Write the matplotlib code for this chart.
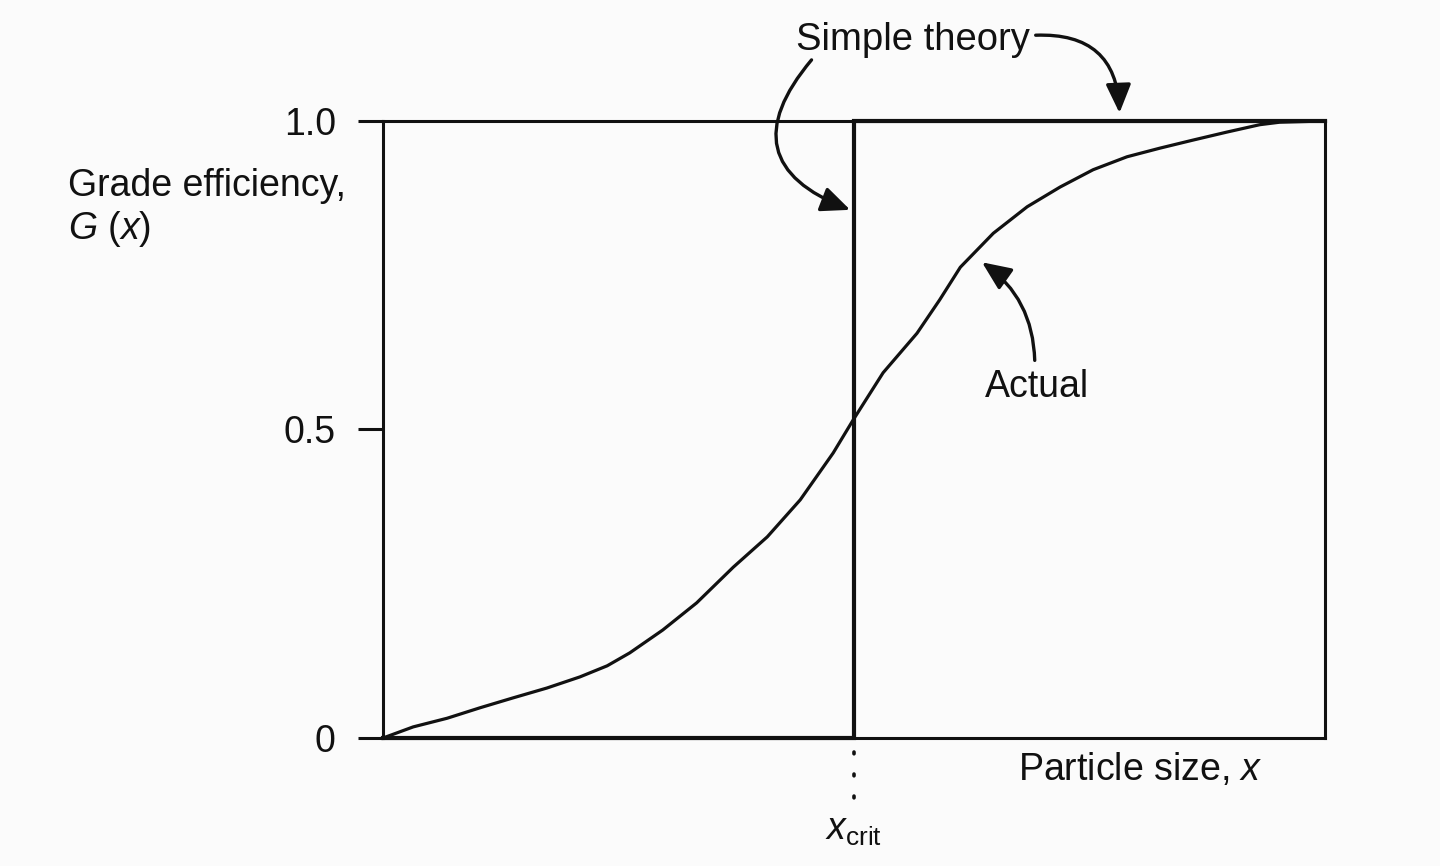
#!/usr/bin/env python3
"""
Grade efficiency curve: simple theory (sharp cut at x_crit) vs actual S-curve.
"""

import matplotlib
matplotlib.use('Agg')
import matplotlib.pyplot as plt

BG = '#fbfbfb'
INK = '#111111'

plt.rcParams.update({
    'font.family': ['Liberation Sans', 'DejaVu Sans'],
    'mathtext.fontset': 'custom',
    'mathtext.rm': 'Liberation Sans',
    'mathtext.it': 'Liberation Sans:italic',
    'figure.facecolor': BG,
    'axes.facecolor': BG,
    'text.color': INK,
})

# ---- data (x normalised to plot width, x_crit at 0.5) ----
x_crit = 0.5
simple_x = [0.0, x_crit, x_crit, 1.0]
simple_y = [0.0, 0.0, 1.0, 1.0]

actual_x = [0.000, 0.032, 0.068, 0.103, 0.138, 0.174, 0.209, 0.238, 0.262,
            0.297, 0.333, 0.372, 0.408, 0.443, 0.478, 0.499, 0.531, 0.567,
            0.591, 0.613, 0.648, 0.684, 0.719, 0.754, 0.790, 0.825, 0.860,
            0.896, 0.931, 0.952, 1.000]
actual_y = [0.000, 0.018, 0.032, 0.049, 0.065, 0.081, 0.099, 0.117, 0.138,
            0.175, 0.219, 0.277, 0.326, 0.386, 0.462, 0.515, 0.592, 0.656,
            0.710, 0.763, 0.818, 0.861, 0.893, 0.921, 0.942, 0.956, 0.969,
            0.982, 0.994, 0.998, 1.000]

yticks = [0.0, 0.5, 1.0]
ytick_labels = ['0', '0.5', '1.0']

fig = plt.figure(figsize=(14.4, 8.66), dpi=100)
ax = fig.add_axes([0.266, 0.1478, 0.654, 0.7125])

ax.plot(simple_x, simple_y, color=INK, linewidth=3.0, solid_joinstyle='miter',
        clip_on=False, zorder=3)
ax.plot(actual_x, actual_y, color=INK, linewidth=2.3, solid_joinstyle='round',
        clip_on=False, zorder=3)

# dotted drop line below x_crit
ax.plot([x_crit, x_crit], [-0.022, -0.1], color=INK, linewidth=2.6,
        linestyle=(0, (0.5, 5.6)), dash_capstyle='round', clip_on=False)

ax.set_xlim(0, 1)
ax.set_ylim(0, 1)
for side in ['left', 'right', 'top', 'bottom']:
    ax.spines[side].set_linewidth(2.2)
    ax.spines[side].set_color(INK)

ax.set_xticks([])
ax.set_yticks(yticks)
ax.set_yticklabels(ytick_labels, fontsize=27)
ax.tick_params(axis='y', direction='out', length=18, width=2.2, pad=16, colors=INK)

# ---- texts ----
ax.text(-0.335, 0.878, 'Grade efficiency,', fontsize=27, ha='left', va='baseline')
ax.text(-0.335, 0.809, r'$G$ ($x$)', fontsize=27, ha='left', va='baseline')
ax.text(0.674, -0.068, r'Particle size, $x$', fontsize=27, ha='left', va='baseline')
ax.text(x_crit, -0.165, r'$x_{\mathrm{crit}}$', fontsize=27, ha='center', va='baseline')
ax.text(0.439, 1.115, 'Simple theory', fontsize=27.5, ha='left', va='baseline')
ax.text(0.639, 0.553, 'Actual', fontsize=27, ha='left', va='baseline')

arrow = dict(arrowstyle='-|>,head_length=0.8,head_width=0.35', color=INK,
             linewidth=2.4, mutation_scale=22, shrinkA=0, shrinkB=0)

ax.annotate('', xy=(0.496, 0.856), xytext=(0.455, 1.099),
            arrowprops=dict(arrow, connectionstyle='arc3,rad=0.7'),
            annotation_clip=False)
ax.annotate('', xy=(0.782, 1.013), xytext=(0.693, 1.139),
            arrowprops=dict(arrow, connectionstyle='arc3,rad=-0.5'),
            annotation_clip=False)
ax.annotate('', xy=(0.636, 0.771), xytext=(0.692, 0.612),
            arrowprops=dict(arrow, connectionstyle='arc3,rad=0.25'),
            annotation_clip=False)

plt.savefig('out.png', dpi=100, facecolor=BG)
plt.close()
